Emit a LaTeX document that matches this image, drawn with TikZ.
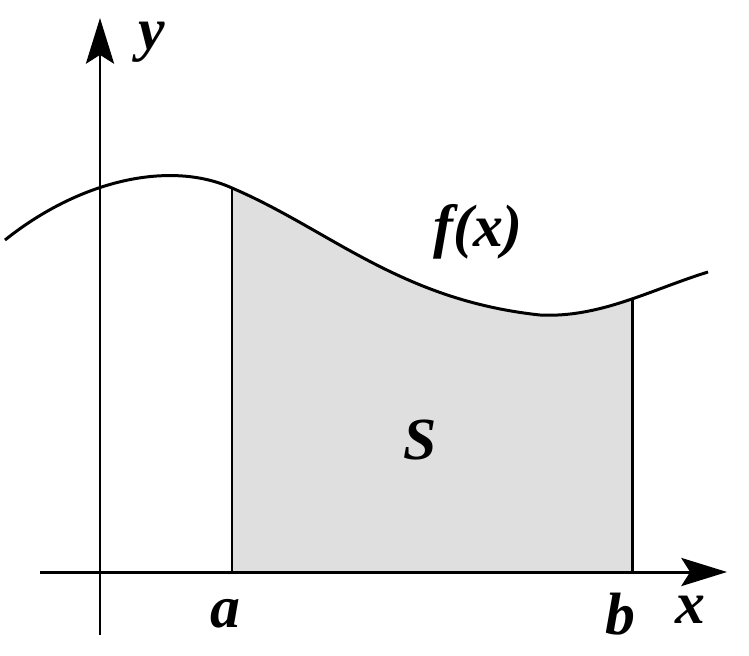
\documentclass[tikz,border=0pt]{standalone}
\usepackage{fontspec}
\setmainfont{Liberation Serif}
\usetikzlibrary{arrows.meta}
\begin{document}
\begin{tikzpicture}[x=0.02cm,y=-0.02cm,
  lbl/.style={font=\fontsize{34}{36}\selectfont\bfseries\itshape},
  ln/.style={line width=1.7pt},
  ax/.style={line width=1.7pt,-{Stealth[length=26pt,width=16pt,inset=5pt]}}]
\useasboundingbox (0,0) rectangle (749,655);
\def\curve{(5,240) .. controls (80,180) and (170,160) .. (232,188) .. controls (330,230) and (400,300) .. (540,315) .. controls (600,318) and (650,290) .. (708,272)}
\begin{scope}
\clip (232,0) rectangle (632,572);
\fill[gray!25] \curve -- (708,572) -- (5,572) -- cycle;
\end{scope}
\coordinate (a0) at (232,572); \coordinate (a1) at (232,188);
\coordinate (b0) at (632,572); \coordinate (b1) at (632,299);
\draw[ln] (a0) -- (a1);
\draw[ln] (b0) -- (b1);
\draw[ln] \curve;
\coordinate (xs) at (40,572); \coordinate (xe) at (727,572);
\coordinate (ys) at (100,635); \coordinate (ye) at (100,18);
\draw[ax] (xs) -- (xe);
\draw[ax] (ys) -- (ye);
\node[lbl] (ylab) at (152,42) {y};
\node[lbl] (xlab) at (690,610) {x};
\node[lbl] (alab) at (225,614) {a};
\node[lbl] (blab) at (620,614) {b};
\node[lbl] (flab) at (478,232) {f(x)};
\node[lbl] (slab) at (420,440) {S};
\end{tikzpicture}
\end{document}
